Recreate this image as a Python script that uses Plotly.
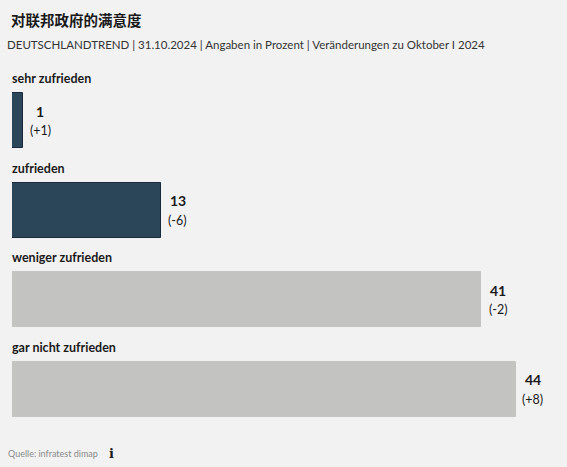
import plotly.graph_objects as go

categories = ["sehr zufrieden", "zufrieden", "weniger zufrieden", "gar nicht zufrieden"]
values = [1, 13, 41, 44]
changes = ["(+1)", "(-6)", "(-2)", "(+8)"]
colors = ["#2b4659", "#2b4659", "#c3c3c1", "#c3c3c1"]
outlines = ["#17293a", "#17293a", "#c3c3c1", "#c3c3c1"]

font_main = "Lato, 'Noto Sans', sans-serif"

fig = go.Figure(go.Bar(
    x=values,
    y=categories,
    orientation="h",
    width=0.615,
    marker=dict(color=colors, line=dict(color=outlines, width=1)),
    hoverinfo="skip",
))

annotations = []
for cat, val, chg in zip(categories, values, changes):
    # category label above the bar
    annotations.append(dict(
        x=0, y=cat, xref="paper", yref="y", xanchor="left", yanchor="middle",
        xshift=-2, yshift=42, text="<b>" + cat + "</b>", showarrow=False,
        font=dict(family=font_main, size=12.5, color="#1a1a1a"),
    ))
    # value and change next to the bar end, two lines
    annotations.append(dict(
        x=val, y=cat, xref="x", yref="y", xanchor="center", yanchor="middle",
        xshift=17, yshift=9.5, text="<b>" + str(val) + "</b>",
        showarrow=False,
        font=dict(family=font_main, size=14, color="#1a1a1a"),
    ))
    annotations.append(dict(
        x=val, y=cat, xref="x", yref="y", xanchor="center", yanchor="middle",
        xshift=17, yshift=-10, text=chg,
        showarrow=False,
        font=dict(family=font_main, size=12.5, color="#1a1a1a"),
    ))

fig.update_layout(
    width=567,
    height=467,
    margin=dict(l=12, r=0, t=76, b=33),
    paper_bgcolor="#f2f2f2",
    plot_bgcolor="#f2f2f2",
    showlegend=False,
    bargap=0,
    xaxis=dict(range=[0, 48.5], visible=False, fixedrange=True),
    yaxis=dict(range=[3.5, -0.5], autorange=False, visible=False, fixedrange=True),
    annotations=annotations,
)

# title, subtitle and source in paper coordinates
fig.add_annotation(x=-3 / 555, y=1 + (76 - 20) / 358, xref="paper", yref="paper",
                   text="<b>对联邦政府的满意度</b>", showarrow=False,
                   xanchor="left", yanchor="middle",
                   font=dict(family="Noto Sans CJK SC", size=14.5, color="#1a1a1a"))
fig.add_annotation(x=-7 / 555, y=1 + (76 - 44) / 358, xref="paper", yref="paper",
                   text="DEUTSCHLANDTREND | 31.10.2024 | Angaben in Prozent | Veränderungen zu Oktober I 2024",
                   showarrow=False, xanchor="left", yanchor="middle",
                   font=dict(family=font_main, size=11.5, color="#333333"))
fig.add_annotation(x=-6 / 555, y=-(453 - 434) / 358, xref="paper", yref="paper",
                   text="Quelle: infratest dimap", showarrow=False,
                   xanchor="left", yanchor="middle",
                   font=dict(family=font_main, size=9, color="#8a8a8a"))
fig.add_annotation(x=99 / 555, y=-(453 - 434) / 358, xref="paper", yref="paper",
                   text="<b>i</b>", showarrow=False,
                   xanchor="center", yanchor="middle",
                   font=dict(family="DejaVu Serif", size=13, color="#1a1a1a"))

fig.write_html("out.html", config={"displayModeBar": False},
               post_script="document.body.style.margin='0';document.body.style.overflow='hidden';")
